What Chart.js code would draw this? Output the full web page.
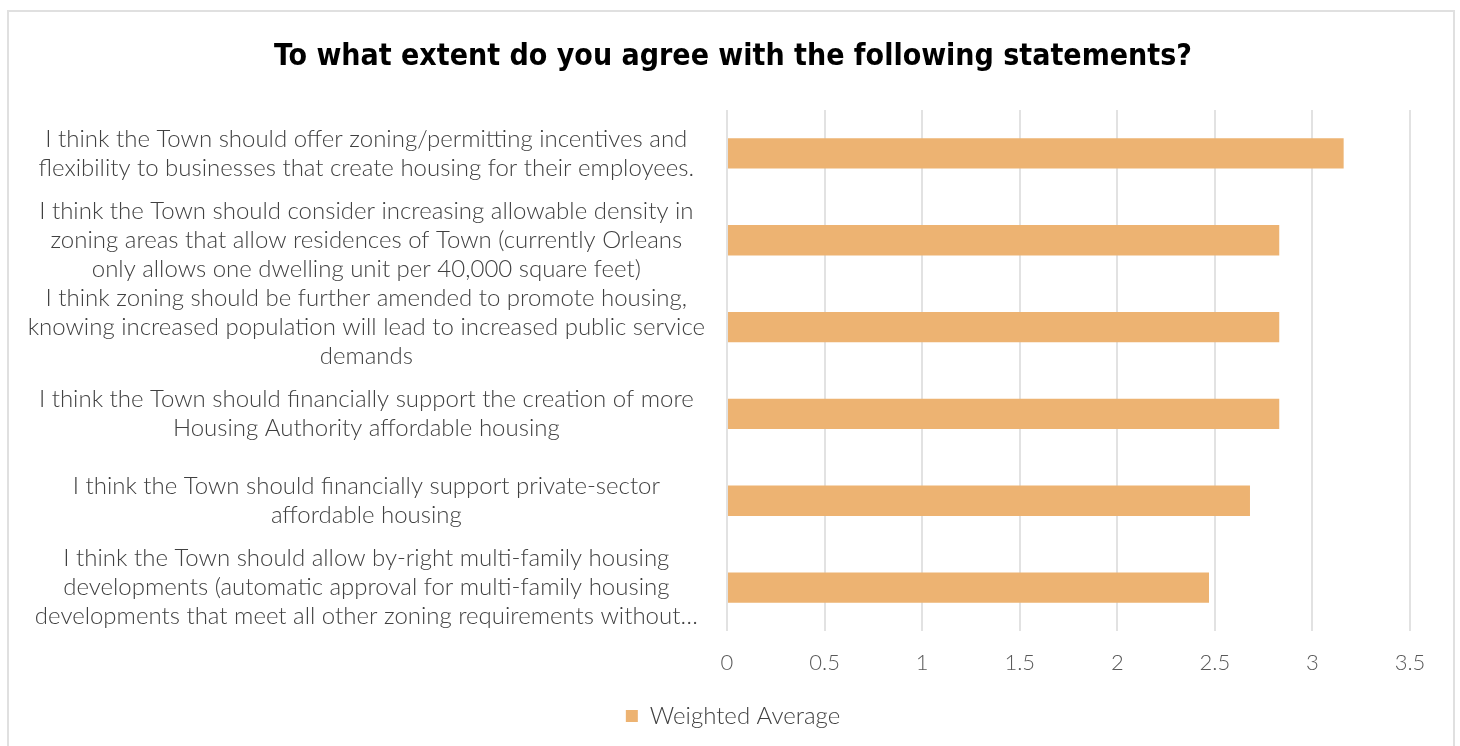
<!DOCTYPE html>
<html>
<head>
<meta charset="utf-8">
<title>Survey - Weighted Average</title>
<script src="https://cdn.jsdelivr.net/npm/chart.js@4/dist/chart.umd.min.js"></script>
<style>
  html, body { margin: 0; padding: 0; background: #fff; overflow: hidden; }
  #wrap {
    position: absolute;
    left: 7px;
    top: 10px;
    width: 1444px;
    height: 734px;
    border: 2px solid #e0e0e0;
    background: #fff;
  }
</style>
</head>
<body>
<div id="wrap"><canvas id="chart"></canvas></div>
<script>
// Statements (already wrapped into lines) and their weighted averages
const statements = [
  ['I think the Town should offer zoning/permitting incentives and',
   'flexibility to businesses that create housing for their employees.'],
  ['I think the Town should consider increasing allowable density in',
   'zoning areas that allow residences of Town (currently Orleans',
   'only allows one dwelling unit per 40,000 square feet)'],
  ['I think zoning should be further amended to promote housing,',
   'knowing increased population will lead to increased public service',
   'demands'],
  ['I think the Town should financially support the creation of more',
   'Housing Authority affordable housing'],
  ['I think the Town should financially support private-sector',
   'affordable housing'],
  ['I think the Town should allow by-right multi-family housing',
   'developments (automatic approval for multi-family housing',
   'developments that meet all other zoning requirements without\u2026']
];
const weightedAverage = [3.16, 2.83, 2.83, 2.83, 2.68, 2.47];
const seriesName = 'Weighted Average';
const chartTitle = 'To what extent do you agree with the following statements?';
const axisMax = 3.5;
const axisStep = 0.5;

const barColor = '#EDB372';
const gridColor = '#e2e2e2';
const labelFont = 'Lato, "Open Sans", sans-serif';

const ctx = document.getElementById('chart').getContext('2d');
const chart = new Chart(ctx, {
  type: 'bar',
  data: {
    labels: statements,
    datasets: [{
      label: seriesName,
      data: weightedAverage,
      backgroundColor: barColor,
      borderWidth: 0,
      barPercentage: 0.35,
      categoryPercentage: 1
    }]
  },
  options: {
    indexAxis: 'y',
    responsive: true,
    maintainAspectRatio: false,
    animation: false,
    layout: {
      padding: { left: 4, right: 0, top: 0, bottom: 8 }
    },
    scales: {
      x: {
        min: 0,
        max: axisMax,
        ticks: {
          stepSize: axisStep,
          padding: 19,
          color: '#595959',
          font: { family: labelFont, size: 22, weight: '300' },
          // plain numbers: 0, 0.5, 1, 1.5 ...
          callback: function(value) { return String(value); }
        },
        grid: { color: gridColor, lineWidth: 2, drawTicks: false },
        border: { display: false },
        afterFit: function(scale) { scale.height = 63; }
      },
      y: {
        ticks: {
          autoSkip: false,
          crossAlign: 'center',
          padding: 22,
          color: '#404040',
          font: { family: labelFont, size: 24, weight: '300', lineHeight: 1.21 }
        },
        grid: { display: false, drawTicks: false },
        border: { display: false },
        afterFit: function(scale) { scale.width = 714; }
      },
      // empty spacer on the right so the title and legend stay centred on the canvas
      spacer: {
        type: 'linear',
        axis: 'y',
        position: 'right',
        ticks: { display: false },
        grid: { display: false, drawTicks: false },
        border: { display: false },
        afterFit: function(scale) { scale.width = 43; }
      }
    },
    plugins: {
      title: {
        display: true,
        text: chartTitle,
        color: '#000',
        font: { family: '"DejaVu Sans Condensed", sans-serif', size: 30, weight: 'bold' },
        padding: { top: 27, bottom: 35 }
      },
      legend: {
        position: 'bottom',
        labels: {
          boxWidth: 12,
          boxHeight: 12,
          color: '#404040',
          font: { family: labelFont, size: 24, weight: '300' }
        }
      },
      tooltip: { enabled: false }
    }
  }
});
</script>
</body>
</html>
